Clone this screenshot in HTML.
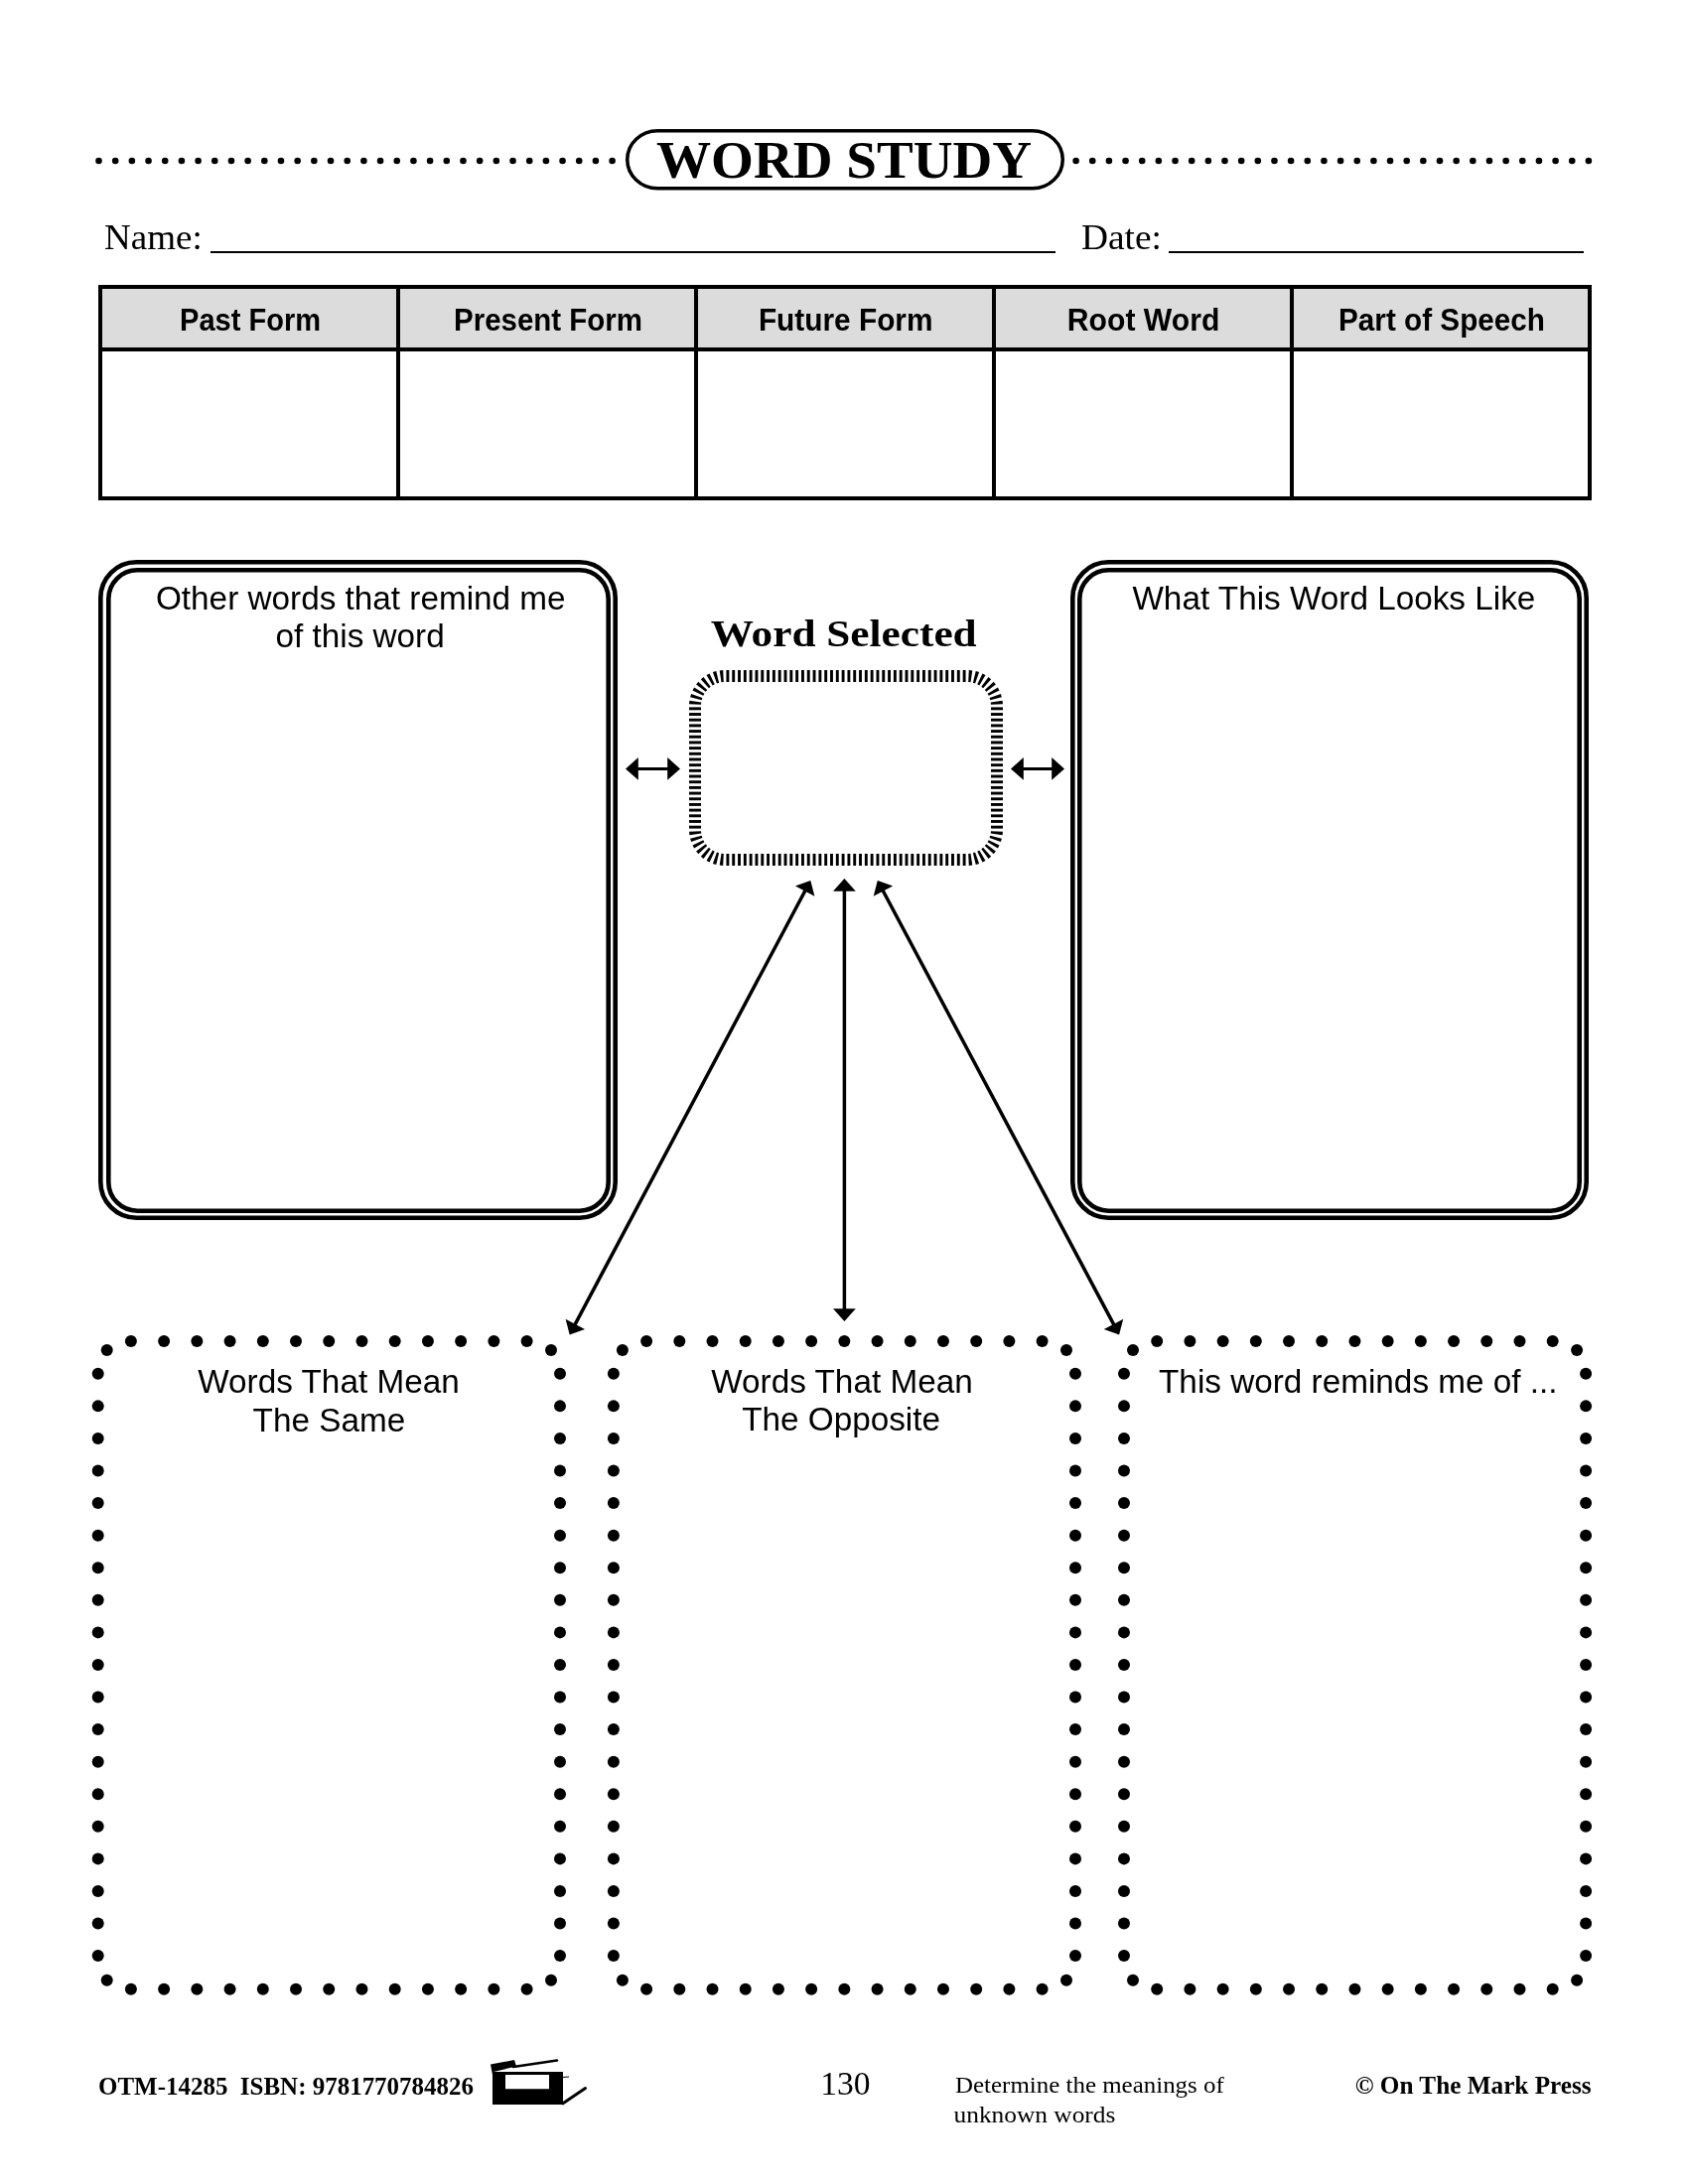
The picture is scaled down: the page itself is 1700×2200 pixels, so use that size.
<!DOCTYPE html>
<html><head><meta charset="utf-8"><title>Word Study</title>
<style>
html,body{margin:0;padding:0;background:#fff;}
body{width:1700px;height:2200px;position:relative;overflow:hidden;font-family:"Liberation Sans", sans-serif;}
svg{will-change:transform;}
</style></head><body>
<svg width="1700" height="2200" viewBox="0 0 1700 2200" style="position:absolute;left:0;top:0"><g fill="#000"><circle cx="99.50" cy="162.00" r="3.30"/><circle cx="116.18" cy="162.00" r="3.30"/><circle cx="132.86" cy="162.00" r="3.30"/><circle cx="149.54" cy="162.00" r="3.30"/><circle cx="166.22" cy="162.00" r="3.30"/><circle cx="182.90" cy="162.00" r="3.30"/><circle cx="199.58" cy="162.00" r="3.30"/><circle cx="216.26" cy="162.00" r="3.30"/><circle cx="232.95" cy="162.00" r="3.30"/><circle cx="249.63" cy="162.00" r="3.30"/><circle cx="266.31" cy="162.00" r="3.30"/><circle cx="282.99" cy="162.00" r="3.30"/><circle cx="299.67" cy="162.00" r="3.30"/><circle cx="316.35" cy="162.00" r="3.30"/><circle cx="333.03" cy="162.00" r="3.30"/><circle cx="349.71" cy="162.00" r="3.30"/><circle cx="366.39" cy="162.00" r="3.30"/><circle cx="383.07" cy="162.00" r="3.30"/><circle cx="399.75" cy="162.00" r="3.30"/><circle cx="416.43" cy="162.00" r="3.30"/><circle cx="433.11" cy="162.00" r="3.30"/><circle cx="449.79" cy="162.00" r="3.30"/><circle cx="466.47" cy="162.00" r="3.30"/><circle cx="483.15" cy="162.00" r="3.30"/><circle cx="499.84" cy="162.00" r="3.30"/><circle cx="516.52" cy="162.00" r="3.30"/><circle cx="533.20" cy="162.00" r="3.30"/><circle cx="549.88" cy="162.00" r="3.30"/><circle cx="566.56" cy="162.00" r="3.30"/><circle cx="583.24" cy="162.00" r="3.30"/><circle cx="599.92" cy="162.00" r="3.30"/><circle cx="616.60" cy="162.00" r="3.30"/><circle cx="1083.60" cy="162.00" r="3.30"/><circle cx="1100.25" cy="162.00" r="3.30"/><circle cx="1116.91" cy="162.00" r="3.30"/><circle cx="1133.56" cy="162.00" r="3.30"/><circle cx="1150.22" cy="162.00" r="3.30"/><circle cx="1166.87" cy="162.00" r="3.30"/><circle cx="1183.53" cy="162.00" r="3.30"/><circle cx="1200.18" cy="162.00" r="3.30"/><circle cx="1216.84" cy="162.00" r="3.30"/><circle cx="1233.49" cy="162.00" r="3.30"/><circle cx="1250.15" cy="162.00" r="3.30"/><circle cx="1266.80" cy="162.00" r="3.30"/><circle cx="1283.46" cy="162.00" r="3.30"/><circle cx="1300.11" cy="162.00" r="3.30"/><circle cx="1316.77" cy="162.00" r="3.30"/><circle cx="1333.42" cy="162.00" r="3.30"/><circle cx="1350.08" cy="162.00" r="3.30"/><circle cx="1366.73" cy="162.00" r="3.30"/><circle cx="1383.39" cy="162.00" r="3.30"/><circle cx="1400.04" cy="162.00" r="3.30"/><circle cx="1416.70" cy="162.00" r="3.30"/><circle cx="1433.35" cy="162.00" r="3.30"/><circle cx="1450.01" cy="162.00" r="3.30"/><circle cx="1466.66" cy="162.00" r="3.30"/><circle cx="1483.32" cy="162.00" r="3.30"/><circle cx="1499.97" cy="162.00" r="3.30"/><circle cx="1516.63" cy="162.00" r="3.30"/><circle cx="1533.28" cy="162.00" r="3.30"/><circle cx="1549.94" cy="162.00" r="3.30"/><circle cx="1566.59" cy="162.00" r="3.30"/><circle cx="1583.25" cy="162.00" r="3.30"/><circle cx="1599.90" cy="162.00" r="3.30"/></g>
<rect x="631.75" y="131.75" width="438.50" height="58.00" rx="30.45" ry="29.00" fill="none" stroke="#000" stroke-width="3.50"/>
<rect x="212" y="253" width="851" height="2" fill="#000"/>
<rect x="1177" y="253" width="418" height="2" fill="#000"/>
<rect x="101" y="289" width="1500" height="63" fill="#dcdcdc"/>
<rect x="101" y="289" width="1500" height="213" fill="none" stroke="#000" stroke-width="4"/>
<rect x="99" y="350" width="1504" height="4" fill="#000"/>
<rect x="399" y="287" width="4" height="217" fill="#000"/>
<rect x="699" y="287" width="4" height="217" fill="#000"/>
<rect x="999" y="287" width="4" height="217" fill="#000"/>
<rect x="1299" y="287" width="4" height="217" fill="#000"/>
<rect x="101.30" y="566.30" width="518.40" height="660.40" rx="36.00" fill="none" stroke="#000" stroke-width="4.60"/>
<rect x="109.30" y="574.30" width="503.40" height="645.40" rx="29.00" fill="none" stroke="#000" stroke-width="4.60"/>
<rect x="1080.30" y="566.30" width="517.40" height="660.40" rx="36.00" fill="none" stroke="#000" stroke-width="4.60"/>
<rect x="1087.30" y="574.30" width="503.40" height="645.40" rx="29.00" fill="none" stroke="#000" stroke-width="4.60"/>
<g fill="#000"><polygon points="731.45,687.00 734.35,687.00 734.35,675.00 731.45,675.00"/><polygon points="737.26,687.00 740.16,687.00 740.16,675.00 737.26,675.00"/><polygon points="743.07,687.00 745.97,687.00 745.97,675.00 743.07,675.00"/><polygon points="748.88,687.00 751.78,687.00 751.78,675.00 748.88,675.00"/><polygon points="754.69,687.00 757.59,687.00 757.59,675.00 754.69,675.00"/><polygon points="760.50,687.00 763.40,687.00 763.40,675.00 760.50,675.00"/><polygon points="766.31,687.00 769.21,687.00 769.21,675.00 766.31,675.00"/><polygon points="772.12,687.00 775.02,687.00 775.02,675.00 772.12,675.00"/><polygon points="777.93,687.00 780.83,687.00 780.83,675.00 777.93,675.00"/><polygon points="783.74,687.00 786.64,687.00 786.64,675.00 783.74,675.00"/><polygon points="789.55,687.00 792.45,687.00 792.45,675.00 789.55,675.00"/><polygon points="795.36,687.00 798.26,687.00 798.26,675.00 795.36,675.00"/><polygon points="801.17,687.00 804.07,687.00 804.07,675.00 801.17,675.00"/><polygon points="806.98,687.00 809.88,687.00 809.88,675.00 806.98,675.00"/><polygon points="812.79,687.00 815.69,687.00 815.69,675.00 812.79,675.00"/><polygon points="818.60,687.00 821.50,687.00 821.50,675.00 818.60,675.00"/><polygon points="824.41,687.00 827.31,687.00 827.31,675.00 824.41,675.00"/><polygon points="830.22,687.00 833.12,687.00 833.12,675.00 830.22,675.00"/><polygon points="836.03,687.00 838.93,687.00 838.93,675.00 836.03,675.00"/><polygon points="841.84,687.00 844.74,687.00 844.74,675.00 841.84,675.00"/><polygon points="847.65,687.00 850.55,687.00 850.55,675.00 847.65,675.00"/><polygon points="853.45,687.00 856.35,687.00 856.35,675.00 853.45,675.00"/><polygon points="859.26,687.00 862.16,687.00 862.16,675.00 859.26,675.00"/><polygon points="865.07,687.00 867.97,687.00 867.97,675.00 865.07,675.00"/><polygon points="870.88,687.00 873.78,687.00 873.78,675.00 870.88,675.00"/><polygon points="876.69,687.00 879.59,687.00 879.59,675.00 876.69,675.00"/><polygon points="882.50,687.00 885.40,687.00 885.40,675.00 882.50,675.00"/><polygon points="888.31,687.00 891.21,687.00 891.21,675.00 888.31,675.00"/><polygon points="894.12,687.00 897.02,687.00 897.02,675.00 894.12,675.00"/><polygon points="899.93,687.00 902.83,687.00 902.83,675.00 899.93,675.00"/><polygon points="905.74,687.00 908.64,687.00 908.64,675.00 905.74,675.00"/><polygon points="911.55,687.00 914.45,687.00 914.45,675.00 911.55,675.00"/><polygon points="917.36,687.00 920.26,687.00 920.26,675.00 917.36,675.00"/><polygon points="923.17,687.00 926.07,687.00 926.07,675.00 923.17,675.00"/><polygon points="928.98,687.00 931.88,687.00 931.88,675.00 928.98,675.00"/><polygon points="934.79,687.00 937.69,687.00 937.69,675.00 934.79,675.00"/><polygon points="940.60,687.00 943.50,687.00 943.50,675.00 940.60,675.00"/><polygon points="946.41,687.00 949.31,687.00 949.31,675.00 946.41,675.00"/><polygon points="952.22,687.00 955.12,687.00 955.12,675.00 952.22,675.00"/><polygon points="958.03,687.00 960.93,687.00 960.93,675.00 958.03,675.00"/><polygon points="963.84,687.00 966.74,687.00 966.74,675.00 963.84,675.00"/><polygon points="969.65,687.00 972.55,687.00 972.55,675.00 969.65,675.00"/><polygon points="731.45,872.00 734.35,872.00 734.35,860.00 731.45,860.00"/><polygon points="737.26,872.00 740.16,872.00 740.16,860.00 737.26,860.00"/><polygon points="743.07,872.00 745.97,872.00 745.97,860.00 743.07,860.00"/><polygon points="748.88,872.00 751.78,872.00 751.78,860.00 748.88,860.00"/><polygon points="754.69,872.00 757.59,872.00 757.59,860.00 754.69,860.00"/><polygon points="760.50,872.00 763.40,872.00 763.40,860.00 760.50,860.00"/><polygon points="766.31,872.00 769.21,872.00 769.21,860.00 766.31,860.00"/><polygon points="772.12,872.00 775.02,872.00 775.02,860.00 772.12,860.00"/><polygon points="777.93,872.00 780.83,872.00 780.83,860.00 777.93,860.00"/><polygon points="783.74,872.00 786.64,872.00 786.64,860.00 783.74,860.00"/><polygon points="789.55,872.00 792.45,872.00 792.45,860.00 789.55,860.00"/><polygon points="795.36,872.00 798.26,872.00 798.26,860.00 795.36,860.00"/><polygon points="801.17,872.00 804.07,872.00 804.07,860.00 801.17,860.00"/><polygon points="806.98,872.00 809.88,872.00 809.88,860.00 806.98,860.00"/><polygon points="812.79,872.00 815.69,872.00 815.69,860.00 812.79,860.00"/><polygon points="818.60,872.00 821.50,872.00 821.50,860.00 818.60,860.00"/><polygon points="824.41,872.00 827.31,872.00 827.31,860.00 824.41,860.00"/><polygon points="830.22,872.00 833.12,872.00 833.12,860.00 830.22,860.00"/><polygon points="836.03,872.00 838.93,872.00 838.93,860.00 836.03,860.00"/><polygon points="841.84,872.00 844.74,872.00 844.74,860.00 841.84,860.00"/><polygon points="847.65,872.00 850.55,872.00 850.55,860.00 847.65,860.00"/><polygon points="853.45,872.00 856.35,872.00 856.35,860.00 853.45,860.00"/><polygon points="859.26,872.00 862.16,872.00 862.16,860.00 859.26,860.00"/><polygon points="865.07,872.00 867.97,872.00 867.97,860.00 865.07,860.00"/><polygon points="870.88,872.00 873.78,872.00 873.78,860.00 870.88,860.00"/><polygon points="876.69,872.00 879.59,872.00 879.59,860.00 876.69,860.00"/><polygon points="882.50,872.00 885.40,872.00 885.40,860.00 882.50,860.00"/><polygon points="888.31,872.00 891.21,872.00 891.21,860.00 888.31,860.00"/><polygon points="894.12,872.00 897.02,872.00 897.02,860.00 894.12,860.00"/><polygon points="899.93,872.00 902.83,872.00 902.83,860.00 899.93,860.00"/><polygon points="905.74,872.00 908.64,872.00 908.64,860.00 905.74,860.00"/><polygon points="911.55,872.00 914.45,872.00 914.45,860.00 911.55,860.00"/><polygon points="917.36,872.00 920.26,872.00 920.26,860.00 917.36,860.00"/><polygon points="923.17,872.00 926.07,872.00 926.07,860.00 923.17,860.00"/><polygon points="928.98,872.00 931.88,872.00 931.88,860.00 928.98,860.00"/><polygon points="934.79,872.00 937.69,872.00 937.69,860.00 934.79,860.00"/><polygon points="940.60,872.00 943.50,872.00 943.50,860.00 940.60,860.00"/><polygon points="946.41,872.00 949.31,872.00 949.31,860.00 946.41,860.00"/><polygon points="952.22,872.00 955.12,872.00 955.12,860.00 952.22,860.00"/><polygon points="958.03,872.00 960.93,872.00 960.93,860.00 958.03,860.00"/><polygon points="963.84,872.00 966.74,872.00 966.74,860.00 963.84,860.00"/><polygon points="969.65,872.00 972.55,872.00 972.55,860.00 969.65,860.00"/><polygon points="694.00,712.39 694.00,715.29 706.00,715.29 706.00,712.39"/><polygon points="694.00,718.07 694.00,720.97 706.00,720.97 706.00,718.07"/><polygon points="694.00,723.75 694.00,726.65 706.00,726.65 706.00,723.75"/><polygon points="694.00,729.44 694.00,732.34 706.00,732.34 706.00,729.44"/><polygon points="694.00,735.12 694.00,738.02 706.00,738.02 706.00,735.12"/><polygon points="694.00,740.80 694.00,743.70 706.00,743.70 706.00,740.80"/><polygon points="694.00,746.48 694.00,749.38 706.00,749.38 706.00,746.48"/><polygon points="694.00,752.16 694.00,755.06 706.00,755.06 706.00,752.16"/><polygon points="694.00,757.85 694.00,760.75 706.00,760.75 706.00,757.85"/><polygon points="694.00,763.53 694.00,766.43 706.00,766.43 706.00,763.53"/><polygon points="694.00,769.21 694.00,772.11 706.00,772.11 706.00,769.21"/><polygon points="694.00,774.89 694.00,777.79 706.00,777.79 706.00,774.89"/><polygon points="694.00,780.57 694.00,783.47 706.00,783.47 706.00,780.57"/><polygon points="694.00,786.25 694.00,789.15 706.00,789.15 706.00,786.25"/><polygon points="694.00,791.94 694.00,794.84 706.00,794.84 706.00,791.94"/><polygon points="694.00,797.62 694.00,800.52 706.00,800.52 706.00,797.62"/><polygon points="694.00,803.30 694.00,806.20 706.00,806.20 706.00,803.30"/><polygon points="694.00,808.98 694.00,811.88 706.00,811.88 706.00,808.98"/><polygon points="694.00,814.66 694.00,817.56 706.00,817.56 706.00,814.66"/><polygon points="694.00,820.35 694.00,823.25 706.00,823.25 706.00,820.35"/><polygon points="694.00,826.03 694.00,828.93 706.00,828.93 706.00,826.03"/><polygon points="694.00,831.71 694.00,834.61 706.00,834.61 706.00,831.71"/><polygon points="998.00,712.39 998.00,715.29 1010.00,715.29 1010.00,712.39"/><polygon points="998.00,718.07 998.00,720.97 1010.00,720.97 1010.00,718.07"/><polygon points="998.00,723.75 998.00,726.65 1010.00,726.65 1010.00,723.75"/><polygon points="998.00,729.44 998.00,732.34 1010.00,732.34 1010.00,729.44"/><polygon points="998.00,735.12 998.00,738.02 1010.00,738.02 1010.00,735.12"/><polygon points="998.00,740.80 998.00,743.70 1010.00,743.70 1010.00,740.80"/><polygon points="998.00,746.48 998.00,749.38 1010.00,749.38 1010.00,746.48"/><polygon points="998.00,752.16 998.00,755.06 1010.00,755.06 1010.00,752.16"/><polygon points="998.00,757.85 998.00,760.75 1010.00,760.75 1010.00,757.85"/><polygon points="998.00,763.53 998.00,766.43 1010.00,766.43 1010.00,763.53"/><polygon points="998.00,769.21 998.00,772.11 1010.00,772.11 1010.00,769.21"/><polygon points="998.00,774.89 998.00,777.79 1010.00,777.79 1010.00,774.89"/><polygon points="998.00,780.57 998.00,783.47 1010.00,783.47 1010.00,780.57"/><polygon points="998.00,786.25 998.00,789.15 1010.00,789.15 1010.00,786.25"/><polygon points="998.00,791.94 998.00,794.84 1010.00,794.84 1010.00,791.94"/><polygon points="998.00,797.62 998.00,800.52 1010.00,800.52 1010.00,797.62"/><polygon points="998.00,803.30 998.00,806.20 1010.00,806.20 1010.00,803.30"/><polygon points="998.00,808.98 998.00,811.88 1010.00,811.88 1010.00,808.98"/><polygon points="998.00,814.66 998.00,817.56 1010.00,817.56 1010.00,814.66"/><polygon points="998.00,820.35 998.00,823.25 1010.00,823.25 1010.00,820.35"/><polygon points="998.00,826.03 998.00,828.93 1010.00,828.93 1010.00,826.03"/><polygon points="998.00,831.71 998.00,834.61 1010.00,834.61 1010.00,831.71"/><polygon points="706.03,709.80 694.04,709.21 694.39,705.74 706.26,707.50"/><polygon points="706.72,705.15 695.09,702.23 696.10,698.90 707.40,702.93"/><polygon points="708.31,700.72 697.47,695.58 699.11,692.52 709.41,698.68"/><polygon points="710.73,696.69 701.10,689.53 703.31,686.84 712.21,694.90"/><polygon points="713.90,693.21 705.84,684.31 708.53,682.10 715.69,691.73"/><polygon points="717.68,690.41 711.52,680.11 714.58,678.47 719.72,689.31"/><polygon points="721.93,688.40 717.90,677.10 721.23,676.09 724.15,687.72"/><polygon points="726.50,687.26 724.74,675.39 728.21,675.04 728.80,687.03"/><polygon points="975.20,687.03 975.79,675.04 979.26,675.39 977.50,687.26"/><polygon points="979.85,687.72 982.77,676.09 986.10,677.10 982.07,688.40"/><polygon points="984.28,689.31 989.42,678.47 992.48,680.11 986.32,690.41"/><polygon points="988.31,691.73 995.47,682.10 998.16,684.31 990.10,693.21"/><polygon points="991.79,694.90 1000.69,686.84 1002.90,689.53 993.27,696.69"/><polygon points="994.59,698.68 1004.89,692.52 1006.53,695.58 995.69,700.72"/><polygon points="996.60,702.93 1007.90,698.90 1008.91,702.23 997.28,705.15"/><polygon points="997.74,707.50 1009.61,705.74 1009.96,709.21 997.97,709.80"/><polygon points="997.97,837.20 1009.96,837.79 1009.61,841.26 997.74,839.50"/><polygon points="997.28,841.85 1008.91,844.77 1007.90,848.10 996.60,844.07"/><polygon points="995.69,846.28 1006.53,851.42 1004.89,854.48 994.59,848.32"/><polygon points="993.27,850.31 1002.90,857.47 1000.69,860.16 991.79,852.10"/><polygon points="990.10,853.79 998.16,862.69 995.47,864.90 988.31,855.27"/><polygon points="986.32,856.59 992.48,866.89 989.42,868.53 984.28,857.69"/><polygon points="982.07,858.60 986.10,869.90 982.77,870.91 979.85,859.28"/><polygon points="977.50,859.74 979.26,871.61 975.79,871.96 975.20,859.97"/><polygon points="728.80,859.97 728.21,871.96 724.74,871.61 726.50,859.74"/><polygon points="724.15,859.28 721.23,870.91 717.90,869.90 721.93,858.60"/><polygon points="719.72,857.69 714.58,868.53 711.52,866.89 717.68,856.59"/><polygon points="715.69,855.27 708.53,864.90 705.84,862.69 713.90,853.79"/><polygon points="712.21,852.10 703.31,860.16 701.10,857.47 710.73,850.31"/><polygon points="709.41,848.32 699.11,854.48 697.47,851.42 708.31,846.28"/><polygon points="707.40,844.07 696.10,848.10 695.09,844.77 706.72,841.85"/><polygon points="706.26,839.50 694.39,841.26 694.04,837.79 706.03,837.20"/></g>
<g fill="#000"><line x1="640.24" y1="774.40" x2="674.76" y2="774.40" stroke="#000" stroke-width="3.00"/><polygon points="685.00,774.40 672.20,785.80 672.20,763.00"/><polygon points="630.00,774.40 642.80,763.00 642.80,785.80"/><line x1="1028.24" y1="774.40" x2="1061.76" y2="774.40" stroke="#000" stroke-width="3.00"/><polygon points="1072.00,774.40 1059.20,785.80 1059.20,763.00"/><polygon points="1018.00,774.40 1030.80,763.00 1030.80,785.80"/><line x1="850.40" y1="895.24" x2="850.40" y2="1320.76" stroke="#000" stroke-width="3.50"/><polygon points="850.40,1331.00 839.00,1318.20 861.80,1318.20"/><polygon points="850.40,885.00 861.80,897.80 839.00,897.80"/><line x1="811.80" y1="895.48" x2="578.20" y2="1335.92" stroke="#000" stroke-width="3.50"/><polygon points="573.70,1344.40 569.61,1328.64 589.04,1338.95"/><polygon points="816.30,887.00 820.39,902.76 800.96,892.45"/><line x1="888.31" y1="895.48" x2="1122.59" y2="1335.92" stroke="#000" stroke-width="3.50"/><polygon points="1127.10,1344.40 1111.75,1338.97 1131.18,1328.64"/><polygon points="883.80,887.00 899.15,892.43 879.72,902.76"/></g>
<g fill="#000"><circle cx="98.70" cy="1383.80" r="6.00"/><circle cx="564.00" cy="1383.80" r="6.00"/><circle cx="98.70" cy="1416.37" r="6.00"/><circle cx="564.00" cy="1416.37" r="6.00"/><circle cx="98.70" cy="1448.94" r="6.00"/><circle cx="564.00" cy="1448.94" r="6.00"/><circle cx="98.70" cy="1481.52" r="6.00"/><circle cx="564.00" cy="1481.52" r="6.00"/><circle cx="98.70" cy="1514.09" r="6.00"/><circle cx="564.00" cy="1514.09" r="6.00"/><circle cx="98.70" cy="1546.66" r="6.00"/><circle cx="564.00" cy="1546.66" r="6.00"/><circle cx="98.70" cy="1579.23" r="6.00"/><circle cx="564.00" cy="1579.23" r="6.00"/><circle cx="98.70" cy="1611.81" r="6.00"/><circle cx="564.00" cy="1611.81" r="6.00"/><circle cx="98.70" cy="1644.38" r="6.00"/><circle cx="564.00" cy="1644.38" r="6.00"/><circle cx="98.70" cy="1676.95" r="6.00"/><circle cx="564.00" cy="1676.95" r="6.00"/><circle cx="98.70" cy="1709.52" r="6.00"/><circle cx="564.00" cy="1709.52" r="6.00"/><circle cx="98.70" cy="1742.09" r="6.00"/><circle cx="564.00" cy="1742.09" r="6.00"/><circle cx="98.70" cy="1774.67" r="6.00"/><circle cx="564.00" cy="1774.67" r="6.00"/><circle cx="98.70" cy="1807.24" r="6.00"/><circle cx="564.00" cy="1807.24" r="6.00"/><circle cx="98.70" cy="1839.81" r="6.00"/><circle cx="564.00" cy="1839.81" r="6.00"/><circle cx="98.70" cy="1872.38" r="6.00"/><circle cx="564.00" cy="1872.38" r="6.00"/><circle cx="98.70" cy="1904.96" r="6.00"/><circle cx="564.00" cy="1904.96" r="6.00"/><circle cx="98.70" cy="1937.53" r="6.00"/><circle cx="564.00" cy="1937.53" r="6.00"/><circle cx="98.70" cy="1970.10" r="6.00"/><circle cx="564.00" cy="1970.10" r="6.00"/><circle cx="131.90" cy="1350.90" r="6.00"/><circle cx="131.90" cy="2003.80" r="6.00"/><circle cx="165.12" cy="1350.90" r="6.00"/><circle cx="165.12" cy="2003.80" r="6.00"/><circle cx="198.35" cy="1350.90" r="6.00"/><circle cx="198.35" cy="2003.80" r="6.00"/><circle cx="231.58" cy="1350.90" r="6.00"/><circle cx="231.58" cy="2003.80" r="6.00"/><circle cx="264.80" cy="1350.90" r="6.00"/><circle cx="264.80" cy="2003.80" r="6.00"/><circle cx="298.03" cy="1350.90" r="6.00"/><circle cx="298.03" cy="2003.80" r="6.00"/><circle cx="331.25" cy="1350.90" r="6.00"/><circle cx="331.25" cy="2003.80" r="6.00"/><circle cx="364.48" cy="1350.90" r="6.00"/><circle cx="364.48" cy="2003.80" r="6.00"/><circle cx="397.70" cy="1350.90" r="6.00"/><circle cx="397.70" cy="2003.80" r="6.00"/><circle cx="430.93" cy="1350.90" r="6.00"/><circle cx="430.93" cy="2003.80" r="6.00"/><circle cx="464.15" cy="1350.90" r="6.00"/><circle cx="464.15" cy="2003.80" r="6.00"/><circle cx="497.38" cy="1350.90" r="6.00"/><circle cx="497.38" cy="2003.80" r="6.00"/><circle cx="530.60" cy="1350.90" r="6.00"/><circle cx="530.60" cy="2003.80" r="6.00"/><circle cx="107.70" cy="1359.90" r="6.00"/><circle cx="555.00" cy="1359.90" r="6.00"/><circle cx="107.70" cy="1994.80" r="6.00"/><circle cx="555.00" cy="1994.80" r="6.00"/><circle cx="617.90" cy="1383.80" r="6.00"/><circle cx="1083.00" cy="1383.80" r="6.00"/><circle cx="617.90" cy="1416.37" r="6.00"/><circle cx="1083.00" cy="1416.37" r="6.00"/><circle cx="617.90" cy="1448.94" r="6.00"/><circle cx="1083.00" cy="1448.94" r="6.00"/><circle cx="617.90" cy="1481.52" r="6.00"/><circle cx="1083.00" cy="1481.52" r="6.00"/><circle cx="617.90" cy="1514.09" r="6.00"/><circle cx="1083.00" cy="1514.09" r="6.00"/><circle cx="617.90" cy="1546.66" r="6.00"/><circle cx="1083.00" cy="1546.66" r="6.00"/><circle cx="617.90" cy="1579.23" r="6.00"/><circle cx="1083.00" cy="1579.23" r="6.00"/><circle cx="617.90" cy="1611.81" r="6.00"/><circle cx="1083.00" cy="1611.81" r="6.00"/><circle cx="617.90" cy="1644.38" r="6.00"/><circle cx="1083.00" cy="1644.38" r="6.00"/><circle cx="617.90" cy="1676.95" r="6.00"/><circle cx="1083.00" cy="1676.95" r="6.00"/><circle cx="617.90" cy="1709.52" r="6.00"/><circle cx="1083.00" cy="1709.52" r="6.00"/><circle cx="617.90" cy="1742.09" r="6.00"/><circle cx="1083.00" cy="1742.09" r="6.00"/><circle cx="617.90" cy="1774.67" r="6.00"/><circle cx="1083.00" cy="1774.67" r="6.00"/><circle cx="617.90" cy="1807.24" r="6.00"/><circle cx="1083.00" cy="1807.24" r="6.00"/><circle cx="617.90" cy="1839.81" r="6.00"/><circle cx="1083.00" cy="1839.81" r="6.00"/><circle cx="617.90" cy="1872.38" r="6.00"/><circle cx="1083.00" cy="1872.38" r="6.00"/><circle cx="617.90" cy="1904.96" r="6.00"/><circle cx="1083.00" cy="1904.96" r="6.00"/><circle cx="617.90" cy="1937.53" r="6.00"/><circle cx="1083.00" cy="1937.53" r="6.00"/><circle cx="617.90" cy="1970.10" r="6.00"/><circle cx="1083.00" cy="1970.10" r="6.00"/><circle cx="651.10" cy="1350.90" r="6.00"/><circle cx="651.10" cy="2003.80" r="6.00"/><circle cx="684.31" cy="1350.90" r="6.00"/><circle cx="684.31" cy="2003.80" r="6.00"/><circle cx="717.52" cy="1350.90" r="6.00"/><circle cx="717.52" cy="2003.80" r="6.00"/><circle cx="750.73" cy="1350.90" r="6.00"/><circle cx="750.73" cy="2003.80" r="6.00"/><circle cx="783.93" cy="1350.90" r="6.00"/><circle cx="783.93" cy="2003.80" r="6.00"/><circle cx="817.14" cy="1350.90" r="6.00"/><circle cx="817.14" cy="2003.80" r="6.00"/><circle cx="850.35" cy="1350.90" r="6.00"/><circle cx="850.35" cy="2003.80" r="6.00"/><circle cx="883.56" cy="1350.90" r="6.00"/><circle cx="883.56" cy="2003.80" r="6.00"/><circle cx="916.77" cy="1350.90" r="6.00"/><circle cx="916.77" cy="2003.80" r="6.00"/><circle cx="949.97" cy="1350.90" r="6.00"/><circle cx="949.97" cy="2003.80" r="6.00"/><circle cx="983.18" cy="1350.90" r="6.00"/><circle cx="983.18" cy="2003.80" r="6.00"/><circle cx="1016.39" cy="1350.90" r="6.00"/><circle cx="1016.39" cy="2003.80" r="6.00"/><circle cx="1049.60" cy="1350.90" r="6.00"/><circle cx="1049.60" cy="2003.80" r="6.00"/><circle cx="626.90" cy="1359.90" r="6.00"/><circle cx="1074.00" cy="1359.90" r="6.00"/><circle cx="626.90" cy="1994.80" r="6.00"/><circle cx="1074.00" cy="1994.80" r="6.00"/><circle cx="1132.00" cy="1383.80" r="6.00"/><circle cx="1597.10" cy="1383.80" r="6.00"/><circle cx="1132.00" cy="1416.37" r="6.00"/><circle cx="1597.10" cy="1416.37" r="6.00"/><circle cx="1132.00" cy="1448.94" r="6.00"/><circle cx="1597.10" cy="1448.94" r="6.00"/><circle cx="1132.00" cy="1481.52" r="6.00"/><circle cx="1597.10" cy="1481.52" r="6.00"/><circle cx="1132.00" cy="1514.09" r="6.00"/><circle cx="1597.10" cy="1514.09" r="6.00"/><circle cx="1132.00" cy="1546.66" r="6.00"/><circle cx="1597.10" cy="1546.66" r="6.00"/><circle cx="1132.00" cy="1579.23" r="6.00"/><circle cx="1597.10" cy="1579.23" r="6.00"/><circle cx="1132.00" cy="1611.81" r="6.00"/><circle cx="1597.10" cy="1611.81" r="6.00"/><circle cx="1132.00" cy="1644.38" r="6.00"/><circle cx="1597.10" cy="1644.38" r="6.00"/><circle cx="1132.00" cy="1676.95" r="6.00"/><circle cx="1597.10" cy="1676.95" r="6.00"/><circle cx="1132.00" cy="1709.52" r="6.00"/><circle cx="1597.10" cy="1709.52" r="6.00"/><circle cx="1132.00" cy="1742.09" r="6.00"/><circle cx="1597.10" cy="1742.09" r="6.00"/><circle cx="1132.00" cy="1774.67" r="6.00"/><circle cx="1597.10" cy="1774.67" r="6.00"/><circle cx="1132.00" cy="1807.24" r="6.00"/><circle cx="1597.10" cy="1807.24" r="6.00"/><circle cx="1132.00" cy="1839.81" r="6.00"/><circle cx="1597.10" cy="1839.81" r="6.00"/><circle cx="1132.00" cy="1872.38" r="6.00"/><circle cx="1597.10" cy="1872.38" r="6.00"/><circle cx="1132.00" cy="1904.96" r="6.00"/><circle cx="1597.10" cy="1904.96" r="6.00"/><circle cx="1132.00" cy="1937.53" r="6.00"/><circle cx="1597.10" cy="1937.53" r="6.00"/><circle cx="1132.00" cy="1970.10" r="6.00"/><circle cx="1597.10" cy="1970.10" r="6.00"/><circle cx="1165.20" cy="1350.90" r="6.00"/><circle cx="1165.20" cy="2003.80" r="6.00"/><circle cx="1198.41" cy="1350.90" r="6.00"/><circle cx="1198.41" cy="2003.80" r="6.00"/><circle cx="1231.62" cy="1350.90" r="6.00"/><circle cx="1231.62" cy="2003.80" r="6.00"/><circle cx="1264.83" cy="1350.90" r="6.00"/><circle cx="1264.83" cy="2003.80" r="6.00"/><circle cx="1298.03" cy="1350.90" r="6.00"/><circle cx="1298.03" cy="2003.80" r="6.00"/><circle cx="1331.24" cy="1350.90" r="6.00"/><circle cx="1331.24" cy="2003.80" r="6.00"/><circle cx="1364.45" cy="1350.90" r="6.00"/><circle cx="1364.45" cy="2003.80" r="6.00"/><circle cx="1397.66" cy="1350.90" r="6.00"/><circle cx="1397.66" cy="2003.80" r="6.00"/><circle cx="1430.87" cy="1350.90" r="6.00"/><circle cx="1430.87" cy="2003.80" r="6.00"/><circle cx="1464.07" cy="1350.90" r="6.00"/><circle cx="1464.07" cy="2003.80" r="6.00"/><circle cx="1497.28" cy="1350.90" r="6.00"/><circle cx="1497.28" cy="2003.80" r="6.00"/><circle cx="1530.49" cy="1350.90" r="6.00"/><circle cx="1530.49" cy="2003.80" r="6.00"/><circle cx="1563.70" cy="1350.90" r="6.00"/><circle cx="1563.70" cy="2003.80" r="6.00"/><circle cx="1141.00" cy="1359.90" r="6.00"/><circle cx="1588.10" cy="1359.90" r="6.00"/><circle cx="1141.00" cy="1994.80" r="6.00"/><circle cx="1588.10" cy="1994.80" r="6.00"/></g>
<path fill="#000" fill-rule="evenodd" d="M496,2087 H567 V2120 H496 Z M509,2090 V2104.2 H553 V2090 Z"/><polygon fill="#000" points="494,2079.5 518,2075 520,2081.5 497,2087 496,2090"/><line x1="517" y1="2082" x2="561" y2="2075.5" stroke="#000" stroke-width="2.6" stroke-linecap="round"/><line x1="567" y1="2118.8" x2="589.5" y2="2103.6" stroke="#000" stroke-width="3" stroke-linecap="round"/><line x1="566" y1="2092.5" x2="573" y2="2092" stroke="#000" stroke-width="1.2"/>
<g fill="#000"><text x="850.00" y="178.80" font-family='"Liberation Serif", serif' font-size="52.00" font-weight="bold" text-anchor="middle" textLength="378.00" lengthAdjust="spacingAndGlyphs">WORD STUDY</text>
<text x="105.00" y="251.00" font-family='"Liberation Serif", serif' font-size="34.80" font-weight="normal" text-anchor="start" textLength="98.70" lengthAdjust="spacingAndGlyphs">Name:</text>
<text x="1089.00" y="251.00" font-family='"Liberation Serif", serif' font-size="34.80" font-weight="normal" text-anchor="start" textLength="81.00" lengthAdjust="spacingAndGlyphs">Date:</text>
<text x="252.10" y="333.00" font-family='"Liberation Sans", sans-serif' font-size="31.00" font-weight="bold" text-anchor="middle" textLength="142.00" lengthAdjust="spacingAndGlyphs">Past Form</text>
<text x="552.00" y="333.00" font-family='"Liberation Sans", sans-serif' font-size="31.00" font-weight="bold" text-anchor="middle" textLength="190.00" lengthAdjust="spacingAndGlyphs">Present Form</text>
<text x="851.70" y="333.00" font-family='"Liberation Sans", sans-serif' font-size="31.00" font-weight="bold" text-anchor="middle" textLength="175.60" lengthAdjust="spacingAndGlyphs">Future Form</text>
<text x="1151.60" y="333.00" font-family='"Liberation Sans", sans-serif' font-size="31.00" font-weight="bold" text-anchor="middle" textLength="153.50" lengthAdjust="spacingAndGlyphs">Root Word</text>
<text x="1452.00" y="333.00" font-family='"Liberation Sans", sans-serif' font-size="31.00" font-weight="bold" text-anchor="middle" textLength="208.00" lengthAdjust="spacingAndGlyphs">Part of Speech</text>
<text x="363.30" y="613.60" font-family='"Liberation Sans", sans-serif' font-size="33.30" font-weight="normal" text-anchor="middle">Other words that remind me</text>
<text x="362.60" y="651.80" font-family='"Liberation Sans", sans-serif' font-size="33.30" font-weight="normal" text-anchor="middle">of this word</text>
<text x="1343.40" y="613.50" font-family='"Liberation Sans", sans-serif' font-size="33.30" font-weight="normal" text-anchor="middle">What This Word Looks Like</text>
<text x="849.70" y="650.70" font-family='"Liberation Serif", serif' font-size="38.00" font-weight="bold" text-anchor="middle" textLength="268.00" lengthAdjust="spacingAndGlyphs">Word Selected</text>
<text x="331.00" y="1402.80" font-family='"Liberation Sans", sans-serif' font-size="33.30" font-weight="normal" text-anchor="middle">Words That Mean</text>
<text x="331.40" y="1441.60" font-family='"Liberation Sans", sans-serif' font-size="33.30" font-weight="normal" text-anchor="middle">The Same</text>
<text x="848.00" y="1402.50" font-family='"Liberation Sans", sans-serif' font-size="33.30" font-weight="normal" text-anchor="middle">Words That Mean</text>
<text x="847.10" y="1441.40" font-family='"Liberation Sans", sans-serif' font-size="33.30" font-weight="normal" text-anchor="middle">The Opposite</text>
<text x="1367.80" y="1402.80" font-family='"Liberation Sans", sans-serif' font-size="33.30" font-weight="normal" text-anchor="middle">This word reminds me of ...</text>
<text x="99.00" y="2109.70" font-family='"Liberation Serif", serif' font-size="26.00" font-weight="bold" text-anchor="start" textLength="378.00" lengthAdjust="spacingAndGlyphs">OTM-14285&#160; ISBN: 9781770784826</text>
<text x="826.20" y="2110.00" font-family='"Liberation Serif", serif' font-size="33.50" font-weight="normal" text-anchor="start">130</text>
<text x="962.00" y="2108.40" font-family='"Liberation Serif", serif' font-size="24.00" font-weight="normal" text-anchor="start" textLength="270.80" lengthAdjust="spacingAndGlyphs">Determine the meanings of</text>
<text x="960.50" y="2138.30" font-family='"Liberation Serif", serif' font-size="24.00" font-weight="normal" text-anchor="start" textLength="162.90" lengthAdjust="spacingAndGlyphs">unknown words</text>
<text x="1602.70" y="2109.40" font-family='"Liberation Serif", serif' font-size="25.00" font-weight="bold" text-anchor="end" textLength="238.00" lengthAdjust="spacingAndGlyphs">&#169; On The Mark Press</text></g></svg>
</body></html>
